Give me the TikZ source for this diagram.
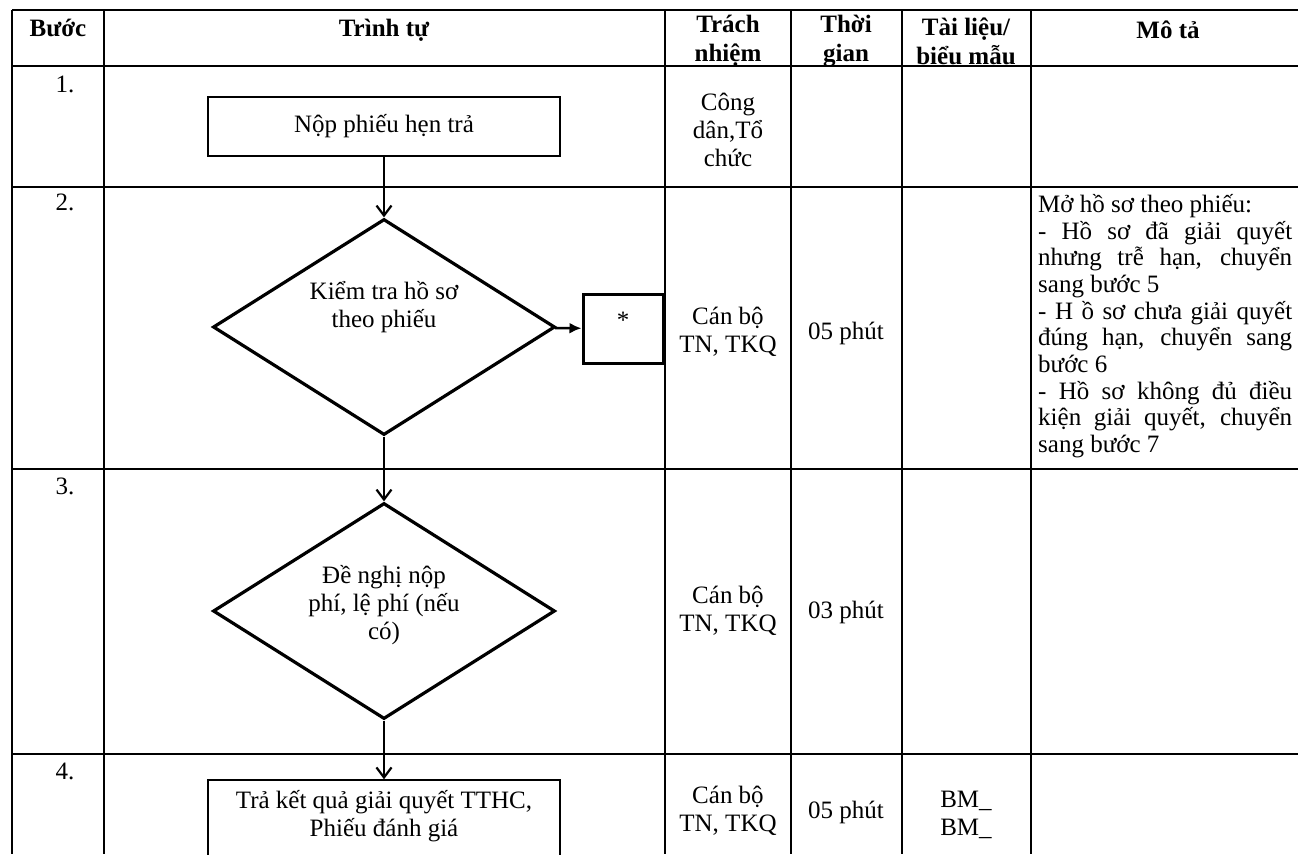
\documentclass[tikz,border=0pt]{standalone}
\usepackage{fontspec}
\setmainfont{Liberation Serif}
\usetikzlibrary{shapes.geometric,arrows.meta}

\newcommand{\jline}[1]{\makebox[254pt][s]{#1}}

\begin{document}
\begin{tikzpicture}[x=1pt, y=-1pt,
   rule/.style={line width=1.4pt},
   txt/.style={align=center, font=\fontsize{25}{28}\selectfont},
   hdr/.style={align=center, font=\fontsize{25}{29}\selectfont\bfseries},
   stepbox/.style={draw, line width=1.5pt, minimum width=352pt, inner sep=0pt},
   check/.style={draw, diamond, line width=3.2pt, minimum width=342pt, minimum height=216pt, inner sep=0pt},
   down/.style={line width=2.2pt, -{Straight Barb[length=10pt, width=15pt]}}]
   
   \clip (0,0) rectangle (1298,854);
   \fill[white] (0,0) rectangle (1298,854);
   
   \draw[rule] (12,10) -- (1305,10);
   \foreach \y in {66,187,469,754} \draw[rule] (12,\y) -- (1305,\y);
   \foreach \x in {12,104,665,791,902,1031,1305} \draw[rule] (\x,10) -- (\x,854);
   
   \node[hdr] (h-buoc) at (58,28) {Bước};
   \node[hdr] (h-trinhtu) at (384,30) {Trình tự};
   \node[hdr] (h-trachnhiem) at (728,41) {Trách\\nhiệm};
   \node[hdr] (h-thoigian) at (846,41) {Thời\\gian};
   \node[hdr] (h-tailieu) at (966,41) {Tài liệu/\\biểu mẫu};
   \node[hdr] (h-mota) at (1168,30) {Mô tả};
   
   \node[txt] (so1) at (65,84) {1.};
   \node[txt] (so2) at (65,202) {2.};
   \node[txt] (so3) at (65,486) {3.};
   \node[txt] (so4) at (65,771) {4.};
   
   \node[stepbox, txt, minimum height=59pt] (nop) at (384,126.5) {Nộp phiếu hẹn trả};
   
   \node[check] (kiemtra) at (384,327) {};
   \node[txt] (kiemtra-txt) at (384,307) {Kiểm tra hồ sơ\\theo phiếu};
   \node[draw, line width=3pt, minimum width=80pt, minimum height=69pt] (sao) at (623,328.5) {};
   \node[txt] (sao-txt) at (623,320) {*};
   
   \node[check] (denghi) at (384,611) {};
   \node[txt] (denghi-txt) at (384,605) {Đề nghị nộp\\phí, lệ phí (nếu\\có)};
   
   \node[stepbox, minimum height=100pt] (traketqua) at (384,830) {};
   \node[txt] (traketqua-txt) at (384,816) {Trả kết quả giải quyết TTHC,\\Phiếu đánh giá};
   
   \draw[down] (nop) -- (kiemtra);
   \draw[down] (kiemtra) -- (denghi);
   \draw[down] (denghi) -- (traketqua);
   \draw[line width=2.4pt, -{Latex[length=12pt, width=11pt]}] (kiemtra) -- (sao);
   
   \node[txt] (trach1) at (728,130) {Công\\dân,Tổ\\chức};
   \node[txt] (trach2) at (728,332) {Cán bộ\\TN, TKQ};
   \node[txt] (tg2) at (846,333) {05 phút};
   \node[txt] (trach3) at (728,611) {Cán bộ\\TN, TKQ};
   \node[txt] (tg3) at (846,612) {03 phút};
   \node[txt] (trach4) at (728,811) {Cán bộ\\TN, TKQ};
   \node[txt] (tg4) at (846,812) {05 phút};
   \node[txt] (bm4) at (966,815) {BM\_\\BM\_};
   
   \node[anchor=north west, inner sep=0pt, align=left, font=\fontsize{25}{26.7}\selectfont] (mota2) at (1038,194)
      {Mở hồ sơ theo phiếu:\\
       \jline{- Hồ sơ đã giải quyết}\\
       \jline{nhưng trễ hạn, chuyển}\\
       sang bước 5\\
       \jline{- H ồ sơ chưa giải quyết}\\
       \jline{đúng hạn, chuyển sang}\\
       bước 6\\
       \jline{- Hồ sơ không đủ điều}\\
       \jline{kiện giải quyết, chuyển}\\
       sang bước 7};
   
\end{tikzpicture}
\end{document}
